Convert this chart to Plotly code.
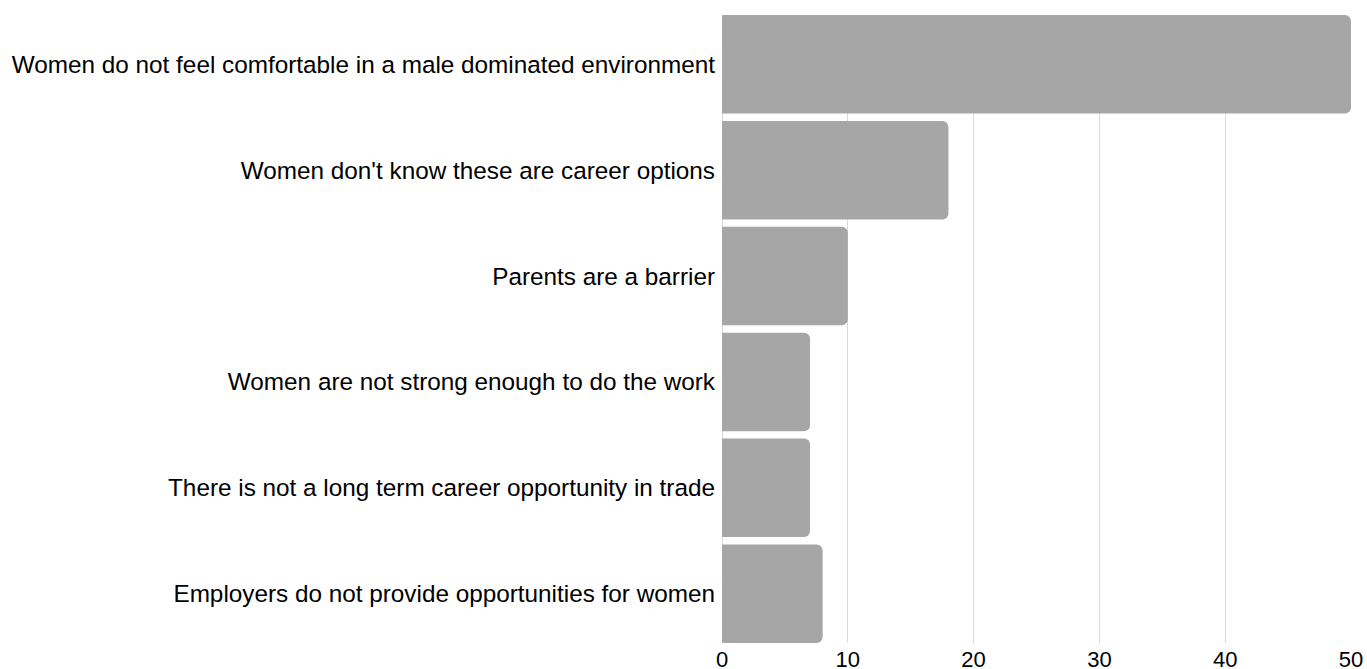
import plotly.graph_objects as go

# Survey responses: perceived barriers for women entering the trades
reasons = [
    "Women do not feel comfortable in a male dominated environment",
    "Women don't know these are career options",
    "Parents are a barrier",
    "Women are not strong enough to do the work",
    "There is not a long term career opportunity in trade",
    "Employers do not provide opportunities for women",
]
counts = [50, 18, 10, 7, 7, 8]
x_ticks = [0, 10, 20, 30, 40, 50]

FONT = "Liberation Sans, Arial, sans-serif"

fig = go.Figure(
    go.Bar(
        x=counts,
        y=reasons,
        orientation="h",
        marker=dict(color="#a6a6a6", line=dict(width=0)),
        hoverinfo="x+y",
    )
)

fig.update_layout(
    width=1367,
    height=669,
    margin=dict(l=722, r=16, t=15, b=26, autoexpand=False),
    paper_bgcolor="white",
    plot_bgcolor="white",
    bargap=0.07,
    barcornerradius=6,
    showlegend=False,
    font=dict(family=FONT, size=24, color="#000000"),
)

fig.update_xaxes(
    range=[0, 50],
    tickvals=x_ticks,
    showgrid=True,
    gridcolor="#d9d9d9",
    gridwidth=1,
    zeroline=True,
    zerolinecolor="#d9d9d9",
    zerolinewidth=1,
    showline=False,
    ticks="",
    ticklabelstandoff=1,
    tickfont=dict(family=FONT, size=22, color="#000000"),
    automargin=False,
)

fig.update_yaxes(
    categoryorder="array",
    categoryarray=reasons,
    autorange=False,
    range=[len(reasons) - 0.5 - 0.035, -0.5 + 0.035],
    showgrid=False,
    zeroline=False,
    showline=False,
    ticks="",
    ticklabelstandoff=6,
    tickfont=dict(family=FONT, size=24.3, color="#000000"),
    automargin=False,
)

fig.write_html("out.html")
